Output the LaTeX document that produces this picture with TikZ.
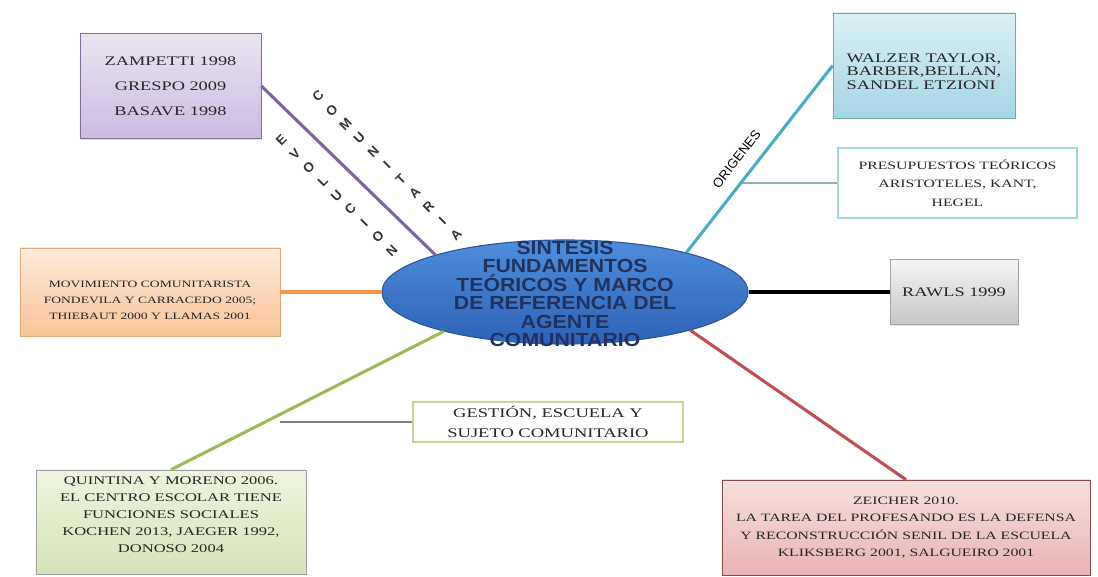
\documentclass[tikz,border=0pt]{standalone}
\usepackage{fontspec}
\setmainfont{Liberation Serif}
\newfontfamily\caja{Liberation Serif}[FakeStretch=1.4]
\newfontfamily\centro{Liberation Sans}[FakeStretch=1.12]
\newfontfamily\rotulo{Liberation Sans}
\usepackage{tikz}
\usetikzlibrary{positioning,calc,shadows,shapes.geometric}
\definecolor{elarriba}{HTML}{4F8DDC}
\definecolor{elabajo}{HTML}{2E62B6}
\definecolor{elborde}{HTML}{2F5597}
\definecolor{azulosc}{HTML}{1F3260}
\definecolor{lila}{HTML}{8064A2}
\definecolor{lilaclaro}{HTML}{EAE4F1}
\definecolor{lilaosc}{HTML}{CBBCE0}
\definecolor{lilaborde}{HTML}{7F6F96}
\definecolor{cian}{HTML}{4BACC6}
\definecolor{cianclaro}{HTML}{DDF0F5}
\definecolor{cianosc}{HTML}{A3D6E4}
\definecolor{cianborde}{HTML}{6FA8B8}
\definecolor{naranja}{HTML}{F79646}
\definecolor{narclaro}{HTML}{FDEBDC}
\definecolor{narosc}{HTML}{F9C497}
\definecolor{narborde}{HTML}{DDA77A}
\definecolor{verde}{HTML}{9BBB59}
\definecolor{verclaro}{HTML}{EEF4E0}
\definecolor{verosc}{HTML}{D6E4B8}
\definecolor{rojo}{HTML}{C0504D}
\definecolor{rojclaro}{HTML}{F6E0DF}
\definecolor{rojosc}{HTML}{E8B4B3}
\definecolor{rojborde}{HTML}{8A4A48}

\begin{document}
\begin{tikzpicture}[x=0.025cm, y=-0.025cm,
        caja/.style={rectangle, inner sep=0pt, align=center, text=black!85,
            drop shadow={opacity=0.25, shadow xshift=1pt, shadow yshift=-1pt}},
        rama/.style={line width=2.2pt},
        letras/.style={font=\rotulo\bfseries\fontsize{9.5}{13.9}\selectfont, text=black!80,
            align=center, inner sep=0pt}]
    \useasboundingbox (0,0) rectangle (1098,577);

    \node[ellipse, minimum width=9.15cm, minimum height=2.6cm, inner sep=0pt,
        top color=elarriba, bottom color=elabajo, draw=elborde, line width=0.8pt] (ell) at (565,292) {};
    \node[font=\centro\bfseries\fontsize{13.5}{13.2}\selectfont, text=azulosc, align=center] (tit) at (565,294)
        {SINTESIS\\FUNDAMENTOS\\TEÓRICOS Y MARCO\\DE REFERENCIA DEL\\AGENTE\\COMUNITARIO};

    \node[caja, minimum width=4.525cm, minimum height=2.625cm, top color=lilaclaro, bottom color=lilaosc,
        draw=lilaborde, font=\caja\fontsize{9.3}{17.8}\selectfont] (zamp) at (170.5,86)
        {ZAMPETTI 1998\\GRESPO 2009\\BASAVE 1998};
    \node[caja, minimum width=4.55cm, minimum height=2.625cm, top color=cianclaro, bottom color=cianosc,
        draw=cianborde, align=left, font=\caja\fontsize{9.3}{9.5}\selectfont] (walzer) at (924,65.5)
        {\rule{0pt}{15pt}WALZER TAYLOR,\\BARBER,BELLAN,\\SANDEL ETZIONI};
    \node[caja, minimum width=5.975cm, minimum height=1.75cm, fill=white, draw=cianosc, line width=1.5pt,
        font=\caja\fontsize{8}{13.2}\selectfont] (presup) at (957.5,183)
        {PRESUPUESTOS TEÓRICOS\\ARISTOTELES, KANT,\\HEGEL};
    \node[caja, minimum width=6.5cm, minimum height=2.2cm, top color=narclaro, bottom color=narosc,
        draw=narborde, font=\caja\fontsize{6.9}{11.4}\selectfont] (mov) at (150,292)
        {\rule{0pt}{16pt}MOVIMIENTO COMUNITARISTA\\FONDEVILA Y CARRACEDO 2005;\\THIEBAUT 2000 Y LLAMAS 2001};
    \node[caja, minimum width=3.2cm, minimum height=1.625cm, top color=gray!8, bottom color=gray!45,
        draw=gray!70, font=\caja\fontsize{9.3}{11}\selectfont] (rawls) at (954,292) {RAWLS 1999};
    \node[caja, minimum width=6.75cm, minimum height=1cm, fill=white, draw=verde!60, line width=1.5pt,
        font=\caja\fontsize{9.4}{14.2}\selectfont] (gest) at (548,422)
        {GESTIÓN, ESCUELA Y\\SUJETO COMUNITARIO};
    \node[caja, minimum width=6.75cm, minimum height=2.6cm, top color=verclaro, bottom color=verosc,
        draw=gray!75, font=\caja\fontsize{8.4}{12.1}\selectfont] (quint) at (171,522)
        {QUINTINA Y MORENO 2006.\\EL CENTRO ESCOLAR TIENE\\FUNCIONES SOCIALES\\KOCHEN 2013, JAEGER 1992,\\DONOSO 2004\rule[-10pt]{0pt}{10pt}};
    \node[caja, minimum width=9.2cm, minimum height=2.375cm, top color=rojclaro, bottom color=rojosc,
        draw=rojborde, font=\caja\fontsize{8}{12.3}\selectfont] (zeich) at (906,527.5)
        {ZEICHER 2010.\\LA TAREA DEL PROFESANDO ES LA DEFENSA\\Y RECONSTRUCCIÓN SENIL DE LA ESCUELA\\KLIKSBERG 2001, SALGUEIRO 2001};

    \draw[rama, lila] (zamp.east) -- (ell.164);
    \draw[rama, cian] (ell.18) -- (walzer.west);
    \draw[rama, naranja] (mov.east) -- (ell.west);
    \draw[rama, black] (ell.east) -- (rawls.west);
    \draw[rama, verde] (ell.-162) -- (quint.north);
    \draw[rama, rojo] (ell.-17) -- (zeich.north);

    % ramas finas
    \coordinate (r0) at (intersection of ell.18--walzer.west and presup.west--presup.east);
    \draw[line width=1pt, cianborde!80!black] (r0) -- (presup.west);
    \coordinate (g0) at (280,422);
    \draw[line width=0.8pt, gray] (g0) -- (gest.west);

    \node[letras, rotate=45] (comun) at ($(zamp.east)!0.6!(ell.164)!0.765cm!90:(ell.164)$)
        {C\\O\\M\\U\\N\\I\\T\\A\\R\\I\\A};
    \node[letras, rotate=45] (evol) at ($(zamp.east)!0.537!(ell.164)!0.655cm!-90:(ell.164)$)
        {E\\V\\O\\L\\U\\C\\I\\O\\N};
    \node[font=\rotulo\fontsize{9.3}{10}\selectfont, inner sep=0pt, rotate=52] (orig)
        at ($(ell.18)!0.44!(walzer.west)!0.45cm!90:(walzer.west)$) {ORIGENES};
\end{tikzpicture}
\end{document}
